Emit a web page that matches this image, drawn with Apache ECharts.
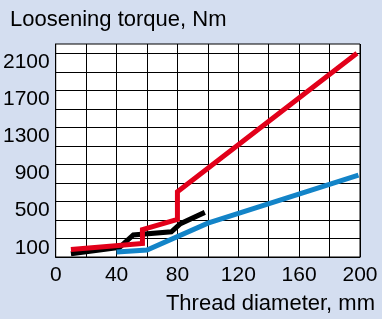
<!DOCTYPE html>
<html>
<head>
<meta charset="utf-8">
<script src="https://cdn.jsdelivr.net/npm/echarts@6/dist/echarts.min.js"></script>
<style>
  html, body { margin: 0; padding: 0; background: #d4def0; }
  #chart { width: 382px; height: 319px; }
</style>
</head>
<body>
<div id="chart"></div>
<script>
// thread diameter (mm) / loosening torque (Nm)
const redLine = [[10, 80], [57, 145], [57, 295], [80, 405], [80, 705], [198, 2200]];
const blackLine = [[10, 35], [42, 105], [51, 238], [76, 272], [82, 360], [98, 482]];
const blueLine = [[40, 55], [60, 75], [100, 365], [199, 885]];

const xTicks = [0, 40, 80, 120, 160, 200];
const yTicks = [100, 500, 900, 1300, 1700, 2100];

const font = 'Liberation Sans, Arial, sans-serif';
const chart = echarts.init(document.getElementById('chart'));

const line = (data, color) => ({
  type: 'line',
  data: data,
  showSymbol: false,
  lineStyle: { color: color, width: 5, cap: 'butt', join: 'miter' },
  z: 3
});

chart.setOption({
  animation: false,
  backgroundColor: '#d4def0',
  title: [
    { text: 'Loosening torque, Nm', left: 5, top: 4,
      textStyle: { fontFamily: font, fontSize: 22, fontWeight: 'normal', color: '#000' } },
    { text: 'Thread diameter, mm', right: 2, top: 288,
      textStyle: { fontFamily: font, fontSize: 22, fontWeight: 'normal', color: '#000' } }
  ],
  grid: {
    left: 54, top: 44, right: 22, bottom: 62,
    show: true, backgroundColor: '#fff', borderColor: '#000', borderWidth: 1
  },
  xAxis: {
    type: 'value', min: 0, max: 200, interval: 20,
    axisLine: { show: true, lineStyle: { color: '#000', width: 1 } },
    axisTick: { show: false },
    splitLine: { show: true, lineStyle: { color: '#000', width: 1 } },
    axisLabel: {
      margin: 8, fontFamily: font, fontSize: 21, color: '#000',
      formatter: v => xTicks.includes(v) ? String(v) : ''
    }
  },
  yAxis: {
    type: 'value', min: 0, max: 2300, interval: 100,
    axisLine: { show: true, lineStyle: { color: '#000', width: 1 } },
    axisTick: { show: false },
    splitLine: { show: true, lineStyle: { color: ['#000', 'rgba(0,0,0,0)'], width: 1 } },
    axisLabel: {
      margin: 6, fontFamily: font, fontSize: 21, color: '#000',
      formatter: v => yTicks.includes(v) ? String(v) : ''
    }
  },
  series: [
    line(blackLine, '#000'),
    line(blueLine, '#1384c8'),
    line(redLine, '#e2001a')
  ]
});
</script>
</body>
</html>
